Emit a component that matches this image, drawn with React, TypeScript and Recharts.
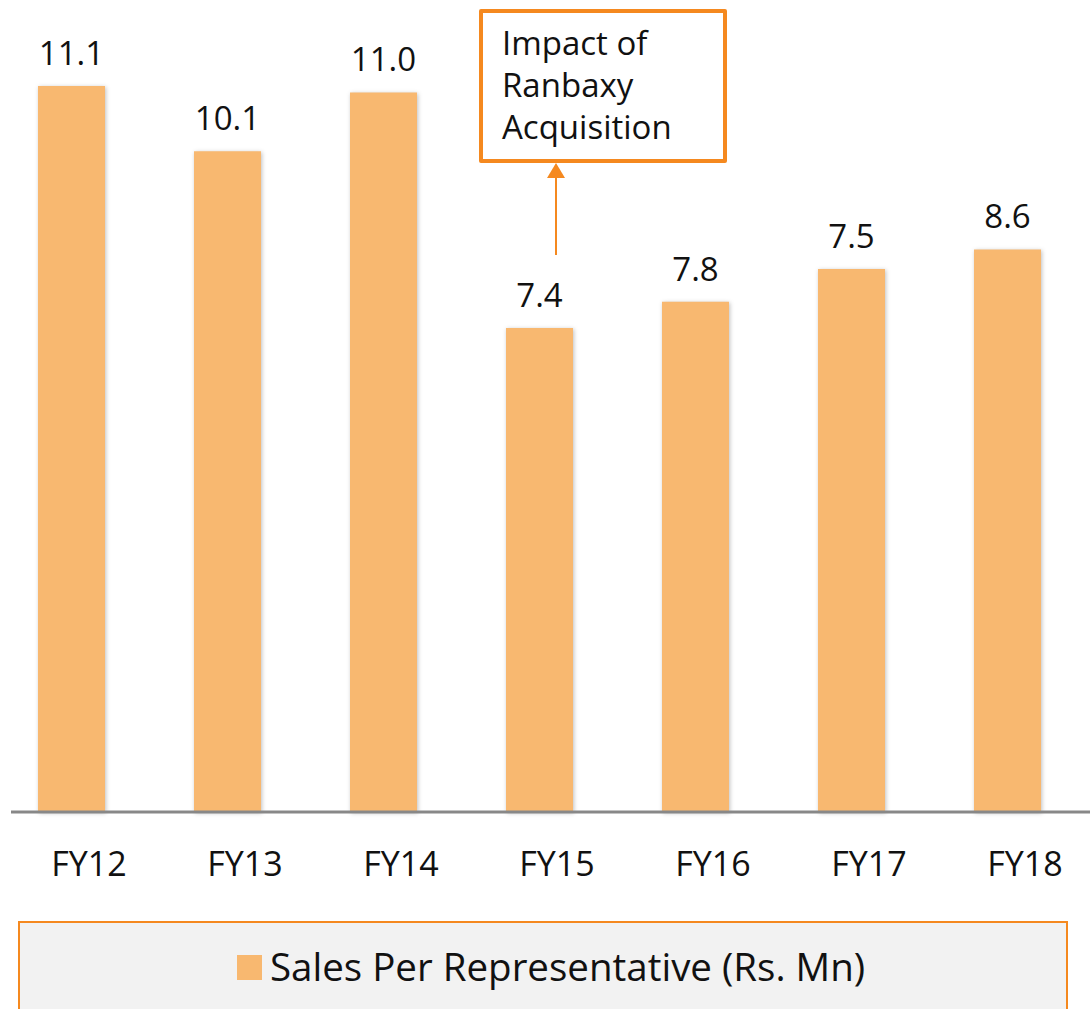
import React from 'react';
import { BarChart, Bar, XAxis, YAxis, LabelList } from 'recharts';

const years = ['FY12', 'FY13', 'FY14', 'FY15', 'FY16', 'FY17', 'FY18'];
const salesPerRep = [11.1, 10.1, 11.0, 7.4, 7.8, 8.3, 8.6];
const printedLabels = ['11.1', '10.1', '11.0', '7.4', '7.8', '7.5', '8.6'];
const seriesName = 'Sales Per Representative (Rs. Mn)';
const noteLines = ['Impact of', 'Ranbaxy', 'Acquisition'];

const BAR = '#F8B870';
const ORANGE = '#F5891F';
const FONT = '"Open Sans", "Noto Sans", sans-serif';

const data = years.map((year, i) => ({ year, value: salesPerRep[i], label: printedLabels[i] }));

export default function App() {
    return (
        <div style={{ position: 'absolute', left: 0, top: 0, width: 1090, height: 1009, overflow: 'hidden', background: '#fff', fontFamily: FONT }}>
            <BarChart width={1090} height={900} data={data} margin={{ top: 27, right: 0, left: 11, bottom: 28 }} barSize={67}>
                <XAxis
                    dataKey="year"
                    height={60}
                    padding={{ left: -18, right: 5 }}
                    axisLine={{ stroke: '#888888', strokeWidth: 3 }}
                    tickLine={false}
                    tick={{ fill: '#111', fontSize: 34, fontFamily: FONT, dx: 18 }}
                    tickMargin={34}
                />
                <YAxis hide domain={[0, 12]} />
                <Bar dataKey="value" fill={BAR} isAnimationActive={false} style={{ filter: 'drop-shadow(1px 1px 2px rgba(0,0,0,0.25))' }}>
                    <LabelList dataKey="label" position="top" offset={21} fill="#111" fontSize={33} fontFamily={FONT} />
                </Bar>
            </BarChart>

            {/* annotation box + arrow */}
            <div style={{ position: 'absolute', left: 479, top: 9, width: 240, height: 146, border: `4px solid ${ORANGE}`, borderRadius: 2, background: '#fff', boxSizing: 'content-box' }}>
                {noteLines.map((t, i) => (
                    <div key={t} style={{ position: 'absolute', left: 19, top: 9 + i * 42, fontSize: 33, lineHeight: '42px', color: '#111' }}>{t}</div>
                ))}
            </div>
            <svg style={{ position: 'absolute', left: 540, top: 160, width: 32, height: 100 }}>
                <line x1={16} y1={16} x2={16} y2={95} stroke={ORANGE} strokeWidth={2} />
                <polygon points="16,3 7,18 25,18" fill={ORANGE} />
            </svg>

            {/* legend */}
            <div style={{ position: 'absolute', left: 18, top: 921, width: 1050, height: 100, background: '#F2F2F2', border: `2px solid ${ORANGE}`, boxSizing: 'border-box' }}>
                <div style={{ position: 'absolute', left: 217, top: 32, width: 25, height: 25, background: BAR }} />
                <div style={{ position: 'absolute', left: 250, top: 18, fontSize: 38.5, lineHeight: '50px', color: '#111', whiteSpace: 'nowrap' }}>{seriesName}</div>
            </div>
        </div>
    );
}
